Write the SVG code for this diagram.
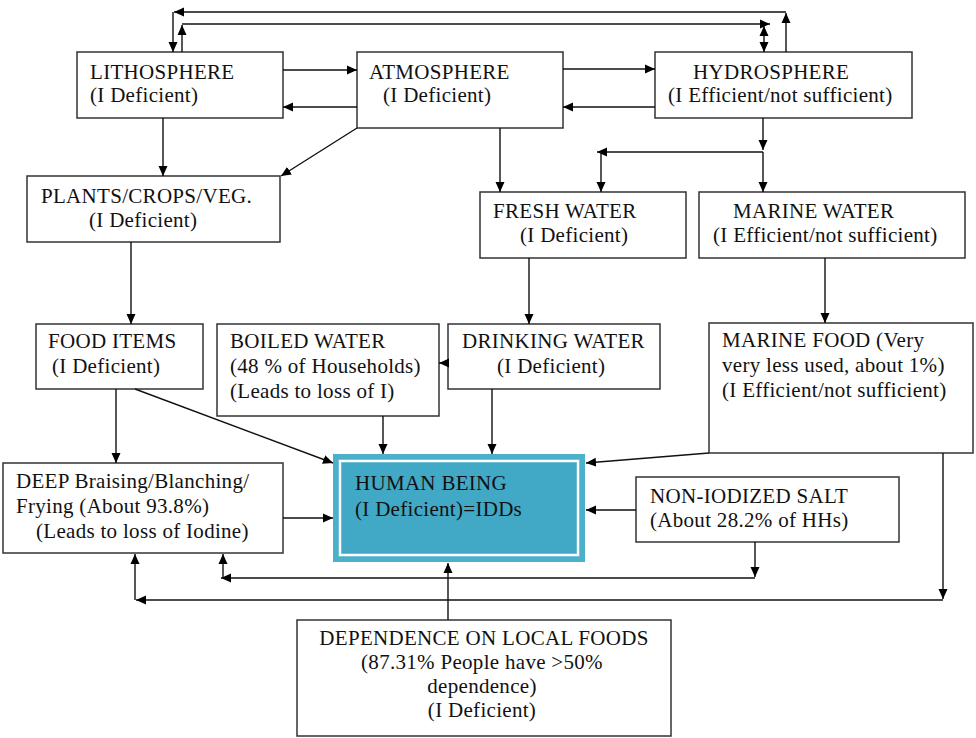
<svg xmlns="http://www.w3.org/2000/svg" width="976" height="738" viewBox="0 0 976 738">
<defs>
<marker id="ah" viewBox="0 0 10 10" refX="10" refY="5" markerWidth="10" markerHeight="10" markerUnits="userSpaceOnUse" orient="auto-start-reverse">
<path d="M0,0.5 L10,5 L0,9.5 z" fill="#000"/>
</marker>
<style>
.box{fill:#fff;stroke:#333;stroke-width:1.5}
.t{font-size:21px;letter-spacing:0.3px;fill:#111}
.c line,.c path{stroke:#111;stroke-width:1.4;fill:none}
.a{marker-end:url(#ah)}
.b{marker-start:url(#ah);marker-end:url(#ah)}
</style>
</defs>
<rect width="976" height="738" fill="#fff"/>
<g font-family="Liberation Serif, Times New Roman, Times, serif">
<g id="lithosphere">
<rect class="box" x="77" y="52" width="206" height="66"/>
<text class="t" x="90" y="79">LITHOSPHERE</text>
<text class="t" x="90" y="102">(I Deficient)</text>
</g>
<g id="atmosphere">
<rect class="box" x="357" y="52" width="206" height="76"/>
<text class="t" x="369" y="79">ATMOSPHERE</text>
<text class="t" x="383" y="102">(I Deficient)</text>
</g>
<g id="hydrosphere">
<rect class="box" x="655" y="52" width="257" height="66"/>
<text class="t" x="693" y="79">HYDROSPHERE</text>
<text class="t" x="668" y="102">(I Efficient/not sufficient)</text>
</g>
<g id="plants">
<rect class="box" x="27" y="176" width="253" height="66"/>
<text class="t" x="41" y="203">PLANTS/CROPS/VEG.</text>
<text class="t" x="89" y="227">(I Deficient)</text>
</g>
<g id="fresh-water">
<rect class="box" x="480" y="192" width="206" height="66"/>
<text class="t" x="493" y="218">FRESH WATER</text>
<text class="t" x="520" y="242">(I Deficient)</text>
</g>
<g id="marine-water">
<rect class="box" x="699" y="192" width="266" height="66"/>
<text class="t" x="733" y="218">MARINE WATER</text>
<text class="t" x="713" y="242">(I Efficient/not sufficient)</text>
</g>
<g id="food-items">
<rect class="box" x="36" y="324" width="167" height="65"/>
<text class="t" x="48" y="348">FOOD ITEMS</text>
<text class="t" x="52" y="373">(I Deficient)</text>
</g>
<g id="boiled-water">
<rect class="box" x="217" y="324" width="222" height="92"/>
<text class="t" x="230" y="348">BOILED WATER</text>
<text class="t" x="230" y="373">(48 % of Households)</text>
<text class="t" x="230" y="398">(Leads to loss of I)</text>
</g>
<g id="drinking-water">
<rect class="box" x="448" y="324" width="212" height="65"/>
<text class="t" x="462" y="348">DRINKING WATER</text>
<text class="t" x="497" y="373">(I Deficient)</text>
</g>
<g id="marine-food">
<rect class="box" x="709" y="323" width="264" height="130"/>
<text class="t" x="722" y="347">MARINE FOOD (Very</text>
<text class="t" x="722" y="372">very less used, about 1%)</text>
<text class="t" x="722" y="397">(I Efficient/not sufficient)</text>
</g>
<g id="deep-braising">
<rect class="box" x="3" y="463" width="280" height="90"/>
<text class="t" x="16" y="488">DEEP Braising/Blanching/</text>
<text class="t" x="16" y="513">Frying (About 93.8%)</text>
<text class="t" x="36" y="538">(Leads to loss of Iodine)</text>
</g>
<g id="human-being">
<rect x="333" y="454" width="252" height="108" fill="#4cb0cb"/>
<rect x="340" y="461" width="238" height="94" fill="#41a8c5" stroke="#fff" stroke-width="2.5"/>
<text class="t" x="355" y="490">HUMAN BEING</text>
<text class="t" x="355" y="516">(I Deficient)=IDDs</text>
</g>
<g id="non-iodized-salt">
<rect class="box" x="636" y="477" width="263" height="65"/>
<text class="t" x="650" y="503">NON-IODIZED SALT</text>
<text class="t" x="650" y="527">(About 28.2% of HHs)</text>
</g>
<g id="dependence">
<rect class="box" x="297" y="620" width="374" height="116"/>
<text class="t" x="484" y="645" text-anchor="middle">DEPENDENCE ON LOCAL FOODS</text>
<text class="t" x="482" y="669" text-anchor="middle">(87.31% People have &gt;50%</text>
<text class="t" x="482" y="693" text-anchor="middle">dependence)</text>
<text class="t" x="482" y="717" text-anchor="middle">(I Deficient)</text>
</g>
</g>
<g id="connectors" class="c">
<line class="a" x1="786" y1="52" x2="786" y2="13"/>
<line class="a" x1="786" y1="12" x2="174" y2="12"/>
<line class="a" x1="173" y1="12" x2="173" y2="52"/>
<line class="a" x1="182" y1="52" x2="182" y2="25"/>
<line class="a" x1="182" y1="24" x2="770" y2="24"/>
<line class="b" x1="764" y1="26" x2="764" y2="52"/>
<line class="a" x1="283" y1="70" x2="357" y2="70"/>
<line class="a" x1="357" y1="107" x2="283" y2="107"/>
<line class="a" x1="563" y1="69" x2="655" y2="69"/>
<line class="a" x1="655" y1="107" x2="563" y2="107"/>
<line class="a" x1="163" y1="118" x2="163" y2="176"/>
<line class="a" x1="357" y1="128" x2="281" y2="176"/>
<line class="a" x1="500" y1="128" x2="500" y2="192"/>
<line class="a" x1="763" y1="118" x2="763" y2="150"/>
<line class="a" x1="763" y1="152" x2="597" y2="152"/>
<line class="a" x1="601" y1="152" x2="601" y2="192"/>
<line class="a" x1="763" y1="152" x2="763" y2="192"/>
<line class="a" x1="131" y1="242" x2="131" y2="324"/>
<line class="a" x1="529" y1="258" x2="529" y2="324"/>
<line class="a" x1="825" y1="258" x2="825" y2="323"/>
<line class="a" x1="448" y1="363" x2="439" y2="363"/>
<line class="a" x1="116" y1="389" x2="116" y2="463"/>
<line class="a" x1="135" y1="389" x2="333" y2="463"/>
<line class="a" x1="383" y1="416" x2="383" y2="454"/>
<line class="a" x1="492" y1="389" x2="492" y2="454"/>
<line class="a" x1="709" y1="453" x2="586" y2="463"/>
<line class="a" x1="283" y1="518" x2="333" y2="518"/>
<line class="a" x1="636" y1="510" x2="586" y2="510"/>
<line class="a" x1="755" y1="542" x2="755" y2="577"/>
<line class="a" x1="755" y1="578" x2="221" y2="578"/>
<line class="a" x1="223" y1="578" x2="223" y2="554"/>
<line class="a" x1="943" y1="453" x2="943" y2="599"/>
<line class="a" x1="943" y1="600" x2="136" y2="600"/>
<line class="a" x1="135" y1="600" x2="135" y2="554"/>
<line class="a" x1="448" y1="620" x2="448" y2="563"/>
</g>
</svg>
